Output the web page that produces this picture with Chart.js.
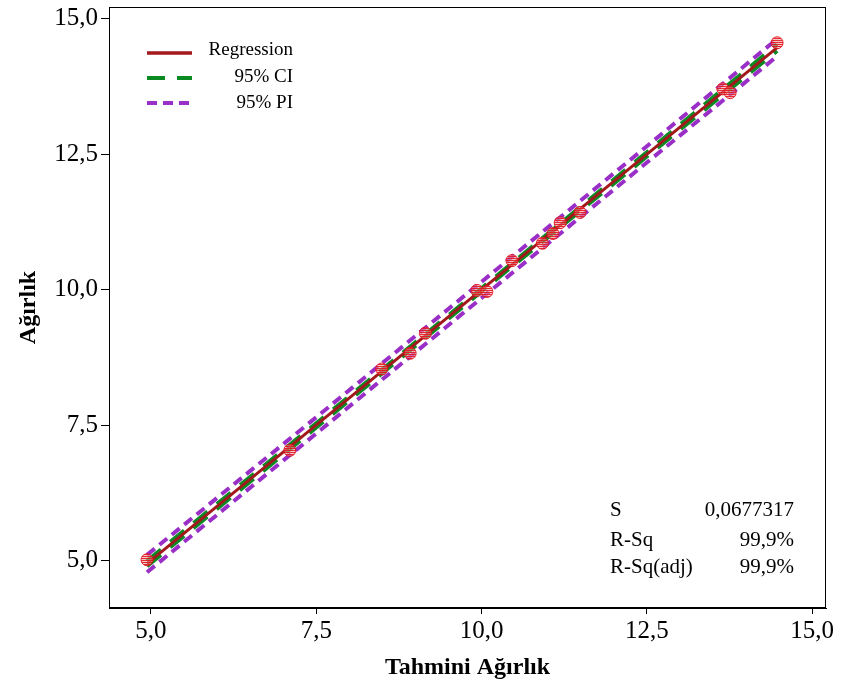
<!DOCTYPE html>
<html><head><meta charset="utf-8">
<script src="https://cdn.jsdelivr.net/npm/chart.js@4/dist/chart.umd.min.js"></script>
<style>html,body{margin:0;padding:0;background:#fff}#wrap{width:841px;height:688px}</style>
</head><body><div id="wrap"><canvas id="c" width="841" height="688"></canvas></div>
<script>
// Observed data (predicted weight vs actual weight)
const predicted = [4.94, 7.10, 8.49, 8.92, 9.15, 9.93, 10.08, 10.46, 10.92, 11.08, 11.19, 11.49, 13.65, 13.76, 14.47];
const actual    = [5.02, 7.04, 8.54, 8.83, 9.20, 9.99, 9.97, 10.54, 10.86, 11.04, 11.24, 11.43, 13.71, 13.64, 14.56];
// Fitted regression line
const regX = [4.94, 14.47];
const regY = [4.95, 14.47];
// Confidence / prediction bands
const bandX   = [4.94, 7.5, 10.0, 12.5, 14.47];
const ciUpper = [5.00, 7.54, 10.03, 12.54, 14.53];
const ciLower = [4.90, 7.46, 9.97, 12.46, 14.41];
const piUpper = [5.11, 7.65, 10.15, 12.65, 14.63];
const piLower = [4.79, 7.35, 9.85, 12.35, 14.31];
// Axis ticks
const xTicks = [5.0, 7.5, 10.0, 12.5, 15.0];
const yTicks = [5.0, 7.5, 10.0, 12.5, 15.0];
// Legend + summary text
const legendLabels = ['Regression', '95% CI', '95% PI'];
const statNames  = ['S', 'R-Sq', 'R-Sq(adj)'];
const statValues = ['0,0677317', '99,9%', '99,9%'];

const RED_LINE = '#a3191b', GREEN = '#0b8a24', PURPLE = '#9a2fc8', POINT_RED = '#e0131c';
const SERIF = '"Liberation Serif", "Times New Roman", serif';

function pts(xs, ys){ return xs.map((x,i)=>({x:x, y:ys[i]})); }
function fmt(v){ return Number(v).toFixed(1).replace('.', ','); }

// hatched fill for markers
const pc = document.createElement('canvas'); pc.width = 2; pc.height = 2;
const pctx = pc.getContext('2d');
pctx.fillStyle = 'rgba(245,150,150,0.55)'; pctx.fillRect(0,0,2,2);
pctx.fillStyle = 'rgba(224,19,28,0.85)'; pctx.fillRect(0,0,2,1);
const ctx0 = document.getElementById('c').getContext('2d');
const hatch = ctx0.createPattern(pc, 'repeat');

const framePlugin = {
  id: 'frame',
  afterDraw(chart){
    const {ctx, chartArea:a} = chart;
    ctx.save();
    ctx.strokeStyle = '#000'; ctx.lineWidth = 1;
    ctx.strokeRect(Math.round(a.left)+0.5, Math.round(a.top)+0.5, Math.round(a.right-a.left)-1, Math.round(a.bottom-a.top)-1);
    // legend
    const lx0 = 147, lx1 = 192, textRight = 293;
    const rows = [
      {y:53, color:RED_LINE, dash:[], w:3.5, base:55},
      {y:78, color:GREEN, dash:[18,12], w:4, base:81.5},
      {y:103, color:PURPLE, dash:[10,6], w:4, base:108}
    ];
    ctx.font = '19px ' + SERIF; ctx.fillStyle = '#000'; ctx.textAlign = 'right'; ctx.textBaseline = 'alphabetic';
    rows.forEach((r,i)=>{
      ctx.beginPath(); ctx.setLineDash(r.dash); ctx.lineWidth = r.w; ctx.strokeStyle = r.color;
      ctx.moveTo(lx0, r.y); ctx.lineTo(lx1, r.y); ctx.stroke();
      ctx.setLineDash([]);
      ctx.fillText(legendLabels[i], textRight, r.base);
    });
    // stats
    ctx.font = '21px ' + SERIF;
    const bases = [516, 546, 573];
    statNames.forEach((n,i)=>{
      ctx.textAlign = 'left'; ctx.fillText(n, 610, bases[i]);
      ctx.textAlign = 'right'; ctx.fillText(statValues[i], 794, bases[i]);
    });
    ctx.restore();
  }
};

new Chart(ctx0, {
  type: 'scatter',
  data: {
    datasets: [
      {label:'Data', data: pts(predicted, actual), pointRadius:6, pointHoverRadius:6, backgroundColor: hatch, borderColor: 'rgba(224,19,28,0.9)', borderWidth:1, showLine:false},
      {label:'Regression', data: pts(regX, regY), showLine:true, pointRadius:0, borderColor: RED_LINE, borderWidth:3, fill:false},
      {label:'95% CI upper', data: pts(bandX, ciUpper), showLine:true, pointRadius:0, borderColor: GREEN, borderWidth:4, borderDash:[18,12], fill:false},
      {label:'95% CI lower', data: pts(bandX, ciLower), showLine:true, pointRadius:0, borderColor: GREEN, borderWidth:4, borderDash:[18,12], fill:false},
      {label:'95% PI upper', data: pts(bandX, piUpper), showLine:true, pointRadius:0, borderColor: PURPLE, borderWidth:4, borderDash:[10,6], fill:false},
      {label:'95% PI lower', data: pts(bandX, piLower), showLine:true, pointRadius:0, borderColor: PURPLE, borderWidth:4, borderDash:[10,6], fill:false}
    ]
  },
  options: {
    responsive: false, animation: false, devicePixelRatio: 1,
    layout: {padding: {top: 6, right: 15, left: 0, bottom: 0}},
    plugins: {legend: {display:false}, tooltip: {enabled:false}},
    scales: {
      x: {
        type: 'linear', min: 4.365, max: 15.21,
        afterBuildTicks: s => { s.ticks = xTicks.map(v => ({value: v})); },
        afterFit: s => { s.height = 80; s.paddingLeft = 0; s.paddingRight = 0; },
        ticks: {callback: v => fmt(v), font: {family: SERIF, size: 25}, color: '#000', padding: 2, maxRotation: 0, autoSkip: false},
        grid: {drawOnChartArea: false, drawTicks: true, tickLength: 6, color: '#000'},
        border: {display: true, color: '#000'},
        title: {display: true, text: 'Tahmini Ağırlık', font: {family: SERIF, size: 24, weight: 'bold'}, color: '#000', padding: {top: 0, bottom: 6}}
      },
      y: {
        type: 'linear', min: 4.13, max: 15.22,
        afterBuildTicks: s => { s.ticks = yTicks.map(v => ({value: v})); },
        afterFit: s => { s.width = 109; s.paddingTop = 0; s.paddingBottom = 0; },
        ticks: {callback: v => fmt(v), font: {family: SERIF, size: 25}, color: '#000', padding: 3, autoSkip: false},
        grid: {drawOnChartArea: false, drawTicks: true, tickLength: 8, color: '#000'},
        border: {display: true, color: '#000'},
        title: {display: true, text: 'Ağırlık', font: {family: SERIF, size: 24, weight: 'bold'}, color: '#000', padding: {top: 14, bottom: 0}}
      }
    }
  },
  plugins: [framePlugin]
});
</script></body></html>
